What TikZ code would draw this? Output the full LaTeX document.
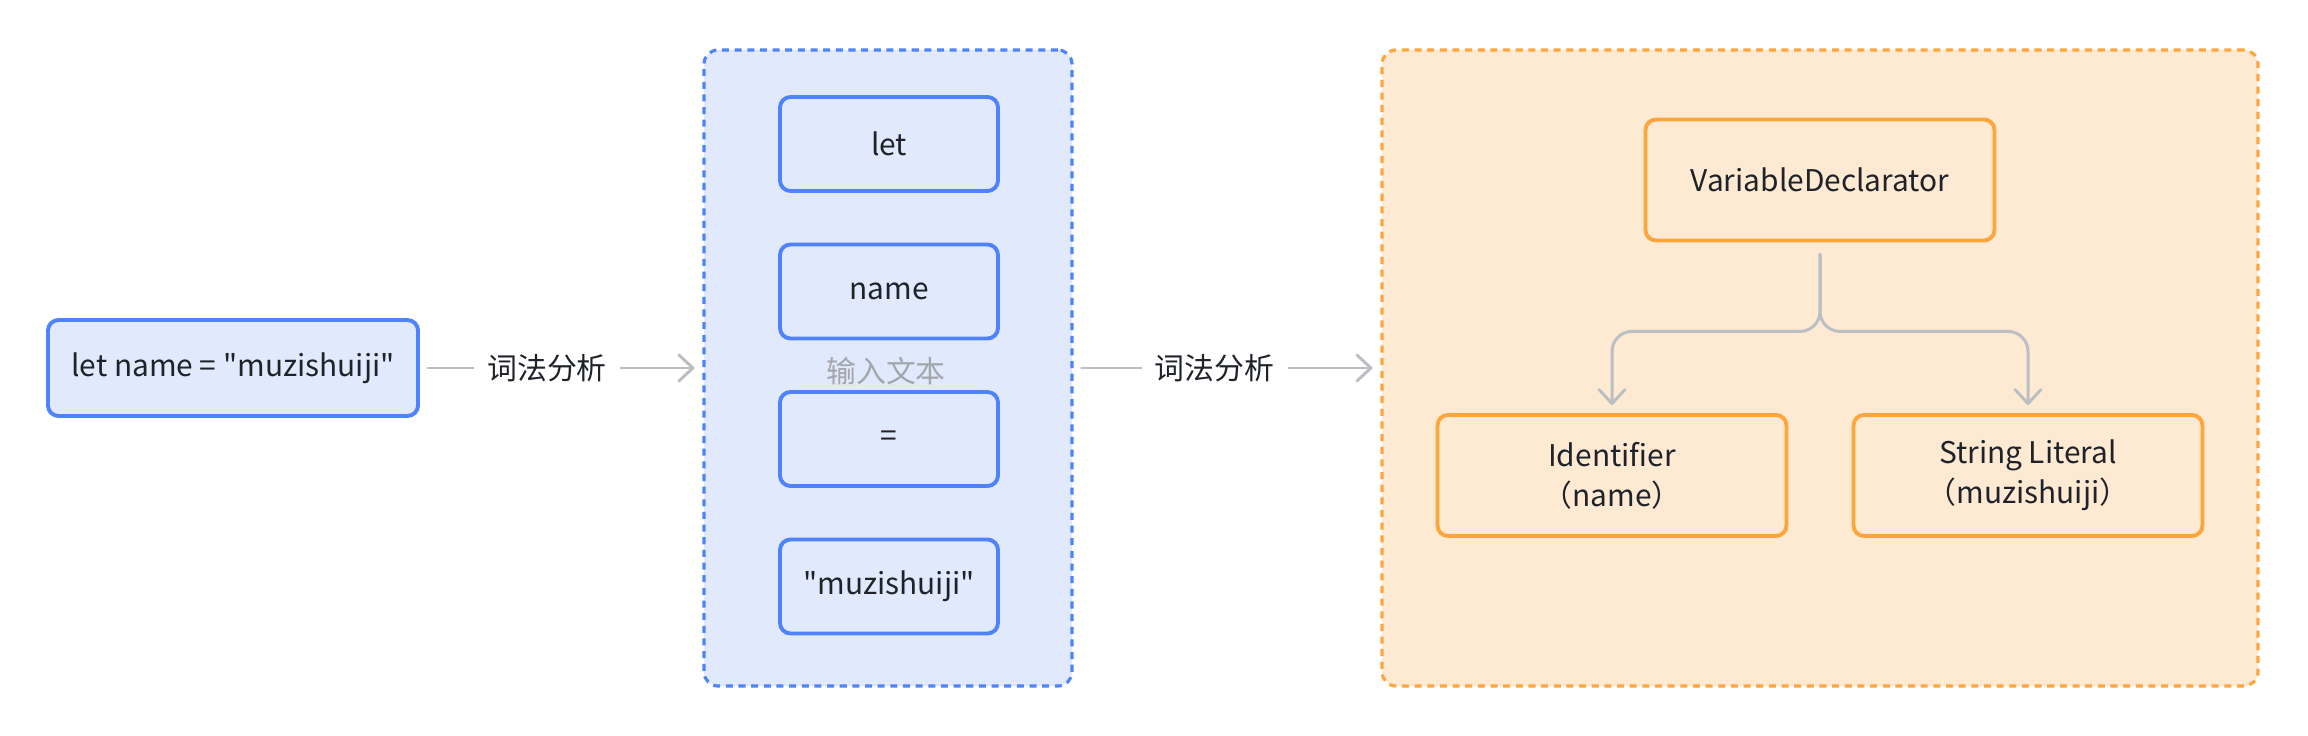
\documentclass[tikz,border=0pt]{standalone}
\usepackage{fontspec}
\setmainfont{Noto Sans CJK SC}[Ligatures=TeXOff]
\definecolor{ink}{HTML}{1F2329}
\definecolor{blueline}{HTML}{4E83FD}
\definecolor{bluefill}{HTML}{E1E9FC}
\definecolor{orangeline}{HTML}{FFA53D}
\definecolor{orangefill}{HTML}{FEEAD3}
\definecolor{wire}{HTML}{BBBFC4}
\definecolor{hintgray}{HTML}{A3A6AB}
\usetikzlibrary{arrows.meta,positioning,calc}
\tikzset{
  srcbox/.style={draw=blueline,line width=1.1pt,rounded corners=3pt,fill=bluefill,align=center,
              minimum width=3.70cm,minimum height=0.96cm,inner sep=0pt,text=ink},
  tok/.style={srcbox,minimum width=2.18cm,minimum height=0.94cm},
  tokzone/.style={draw=blueline,line width=0.9pt,dash pattern=on 2pt off 1.6pt,rounded corners=4pt,
              fill=bluefill,minimum width=3.68cm,minimum height=6.36cm,inner sep=0pt},
  astzone/.style={tokzone,draw=orangeline,fill=orangefill,minimum width=8.76cm},
  astbox/.style={srcbox,draw=orangeline,fill=orangefill,minimum width=3.49cm,minimum height=1.21cm},
  garr/.style={-{Straight Barb[length=1.4mm,width=2.6mm,round]},line width=0.85pt,wire,line cap=round,
              shorten <=0.08cm,shorten >=0.08cm},
  tarr/.style={garr,shorten <=0.12cm,rounded corners=0.2cm},
  lbl/.style={fill=white,text=ink,inner xsep=3.8pt,inner ysep=2pt},
  hint/.style={text=hintgray,inner sep=1pt}
}

\begin{document}
\begin{tikzpicture}[font=\fontsize{8.5pt}{11.4pt}\selectfont]
    \useasboundingbox (0,0) rectangle (23.08,-7.36);
    % source text
    \node[srcbox] (src) at (2.33,-3.68) {let name = "muzishuiji"};
    % tokens
    \node[tokzone] (tokens) at (8.88,-3.68) {};
    \node[tok] (t1) at (8.89,-1.44)  {let};
    \node[tok] (t2) at (8.89,-2.915) {name};
    \node[tok] (t3) at (8.89,-4.39)  {=};
    \node[tok] (t4) at (8.89,-5.865) {"muzishuiji"};
    \node[hint] (tlbl) at (8.86,-3.71) {输入文本};
    % syntax tree
    \node[astzone] (ast) at (18.20,-3.68) {};
    \node[astbox] (vd) at (18.20,-1.80)  {VariableDeclarator};
    \node[astbox] (id) at (16.12,-4.755) {Identifier\\（name）};
    \node[astbox] (sl) at (20.28,-4.755) {String Literal\\（muzishuiji）};
    \draw[garr] (src) -- node[lbl,pos=.45]{词法分析} (tokens);
    \draw[garr] (tokens) -- node[lbl,pos=.46]{词法分析} (ast);
    \coordinate (fork) at ($(vd.south)+(0,-0.89)$);
    \draw[tarr] (vd.south) -- (fork) -| (id.north);
    \draw[tarr] (vd.south) -- (fork) -| (sl.north);
\end{tikzpicture}
\end{document}
